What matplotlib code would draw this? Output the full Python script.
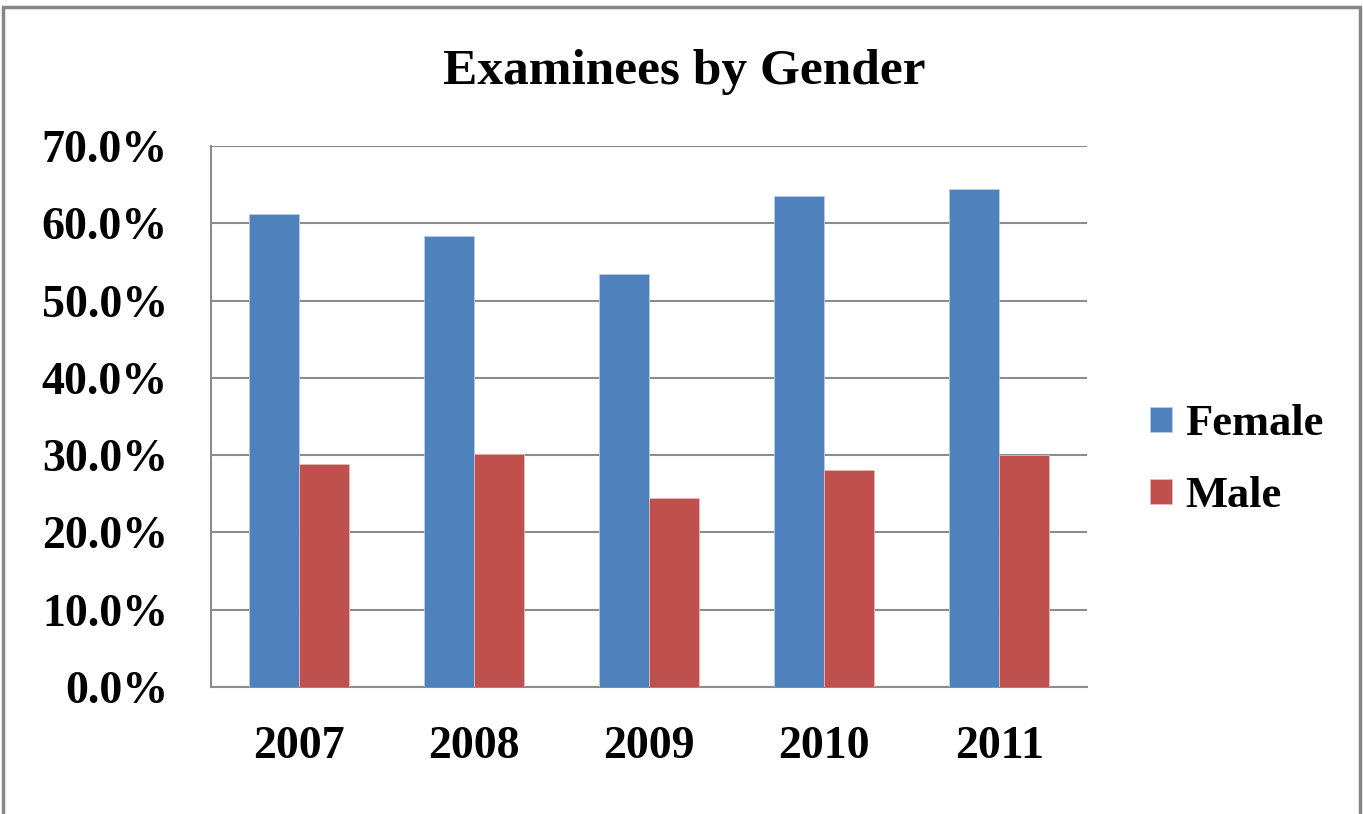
import matplotlib
matplotlib.use("Agg")
import matplotlib.pyplot as plt
from matplotlib.patches import Rectangle
from matplotlib.ticker import FuncFormatter

years = ["2007", "2008", "2009", "2010", "2011"]
female = [61.2, 58.3, 53.4, 63.5, 64.4]
male = [28.9, 30.1, 24.4, 28.1, 30.0]
yticks = [0, 10, 20, 30, 40, 50, 60, 70]

W, H = 1363, 814
fig = plt.figure(figsize=(W / 100, H / 100), dpi=100)
fig.patch.set_facecolor("white")

# outer border
fig.patches.append(Rectangle((3 / W, -0.01), (1357) / W, (H - 7) / H + 0.01,
                             transform=fig.transFigure, fill=False,
                             edgecolor="#878787", linewidth=2.5))

ax = fig.add_axes([211 / W, 1 - 687 / H, 876 / W, 541 / H])
font = "Liberation Serif"
x = list(range(len(years)))
bw = 0.285
ax.bar([i - bw / 2 for i in x], female, width=bw, color="#4F81BD",
       edgecolor="#B9CDE5", linewidth=0.6, label="Female", zorder=3)
ax.bar([i + bw / 2 for i in x], male, width=bw, color="#C0504D",
       edgecolor="#E6B9B8", linewidth=0.6, label="Male", zorder=3)

ax.set_xlim(-0.5, len(years) - 0.5)
ax.set_ylim(0, 70)
ax.set_yticks(yticks)
ax.yaxis.set_major_formatter(FuncFormatter(lambda v, p: f"{v:.1f}%"))
ax.set_xticks(x)
ax.set_xticklabels(years)
ax.grid(axis="y", color="#8C8C8C", linewidth=1.5, zorder=0)
ax.set_axisbelow(True)
for s in ["top", "right"]:
    ax.spines[s].set_visible(False)
for s in ["left", "bottom"]:
    ax.spines[s].set_color("#8C8C8C")
    ax.spines[s].set_linewidth(1.5)
ax.tick_params(axis="both", length=0)
ax.tick_params(axis="y", pad=31)
ax.tick_params(axis="x", pad=28)
for lab in ax.get_yticklabels() + ax.get_xticklabels():
    lab.set_fontfamily(font)
    lab.set_fontweight("bold")
    lab.set_fontsize(33)

fig.text(684 / W, 1 - 84 / H, "Examinees by Gender", ha="center", va="baseline",
         fontfamily=font, fontweight="bold", fontsize=37)

leg = fig.legend(loc="center left", bbox_to_anchor=(1150 / W, 1 - 460 / H),
                 frameon=False, prop={"family": font, "weight": "bold", "size": 32},
                 handlelength=0.5, handleheight=0.5, handletextpad=0.3,
                 labelspacing=0.72, borderpad=0, borderaxespad=0)

fig.savefig("out.png", dpi=100, facecolor="white")
